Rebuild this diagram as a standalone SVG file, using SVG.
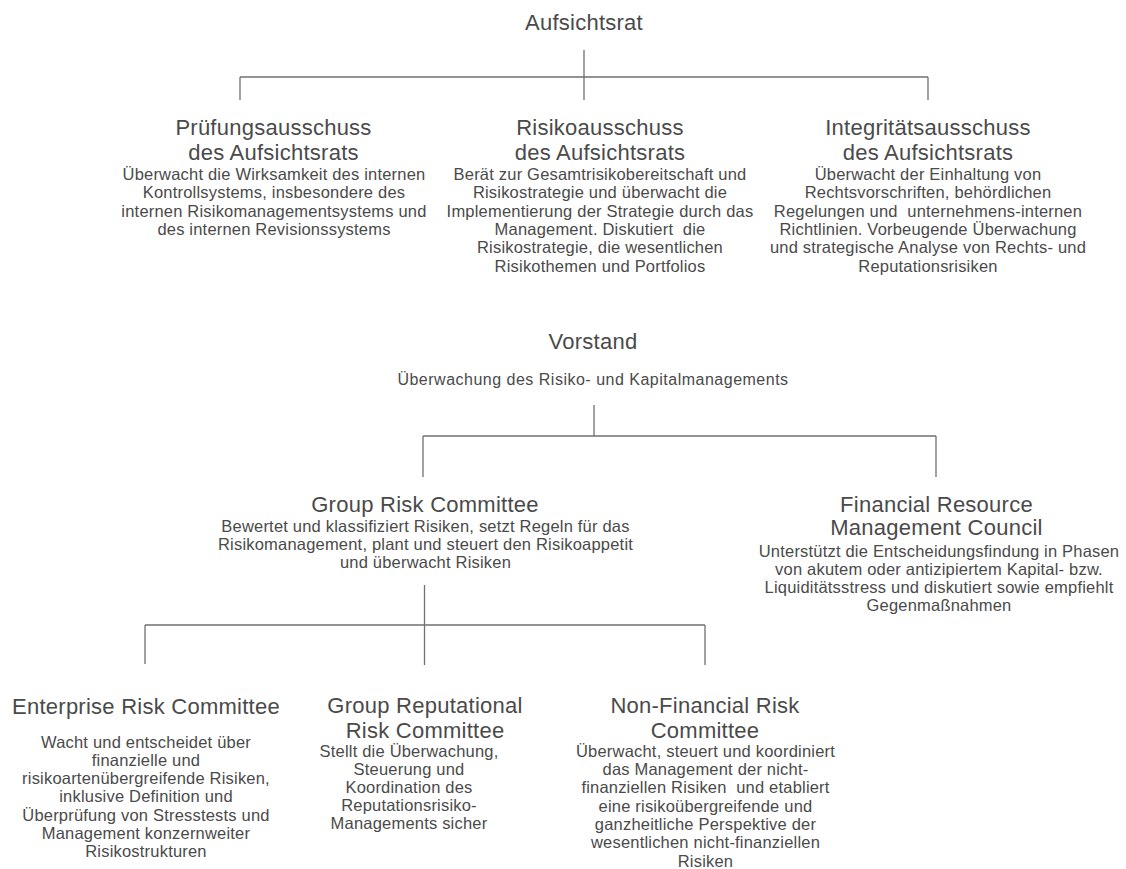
<svg xmlns="http://www.w3.org/2000/svg" width="1126" height="869" viewBox="0 0 1126 869">
<style>
.t{font-family:"Liberation Sans",Arial,sans-serif;font-size:22px;letter-spacing:0.25px;fill:#4a4a4a;text-anchor:middle}
.d{font-family:"Liberation Sans",Arial,sans-serif;font-size:16.5px;letter-spacing:0.2px;fill:#4a4a4a;text-anchor:middle}
.c{fill:none;stroke:#707070;stroke-width:1.3}
</style>
<rect width="1126" height="869" fill="#ffffff"/>
<g id="connectors" class="c">
<path d="M584,50 V100 M240,77 H928 M240,77 V100 M928,77 V100"/>
<path d="M594,405 V436 M423,436 H936 M423,436 V477 M936,436 V477"/>
<path d="M424.5,585 V665 M145,625 H705 M145,625 V664 M705,625 V665"/>
</g>
<g id="aufsichtsrat">
<text class="t" x="584" y="29.5">Aufsichtsrat</text>
</g>
<g id="pruefungsausschuss">
<text class="t" x="273.5"><tspan x="273.5" y="135">Prüfungsausschuss</tspan><tspan x="273.5" y="160">des Aufsichtsrats</tspan></text>
<text class="d" x="274"><tspan x="274" y="180">Überwacht die Wirksamkeit des internen</tspan><tspan x="274" y="198.3">Kontrollsystems, insbesondere des</tspan><tspan x="274" y="216.7">internen Risikomanagementsystems und</tspan><tspan x="274" y="235">des internen Revisionssystems</tspan></text>
</g>
<g id="risikoausschuss">
<text class="t" x="600"><tspan x="600" y="135">Risikoausschuss</tspan><tspan x="600" y="160">des Aufsichtsrats</tspan></text>
<text class="d" x="600" xml:space="preserve"><tspan x="600" y="180">Berät zur Gesamtrisikobereitschaft und</tspan><tspan x="600" y="198.3">Risikostrategie und überwacht die</tspan><tspan x="600" y="216.7">Implementierung der Strategie durch das</tspan><tspan x="600" y="235">Management. Diskutiert  die</tspan><tspan x="600" y="253.3">Risikostrategie, die wesentlichen</tspan><tspan x="600" y="271.7">Risikothemen und Portfolios</tspan></text>
</g>
<g id="integritaetsausschuss">
<text class="t" x="928"><tspan x="928" y="135">Integritätsausschuss</tspan><tspan x="928" y="160">des Aufsichtsrats</tspan></text>
<text class="d" x="928" xml:space="preserve"><tspan x="928" y="180">Überwacht der Einhaltung von</tspan><tspan x="928" y="198.3">Rechtsvorschriften, behördlichen</tspan><tspan x="928" y="216.7">Regelungen und  unternehmens-internen</tspan><tspan x="928" y="235">Richtlinien. Vorbeugende Überwachung</tspan><tspan x="928" y="253.3">und strategische Analyse von Rechts- und</tspan><tspan x="928" y="271.7">Reputationsrisiken</tspan></text>
</g>
<g id="vorstand">
<text class="t" x="593" y="348.5">Vorstand</text>
<text class="d" x="593" y="385" style="font-size:16px;letter-spacing:0.5px">Überwachung des Risiko- und Kapitalmanagements</text>
</g>
<g id="group-risk-committee">
<text class="t" x="425" y="511.7">Group Risk Committee</text>
<text class="d" x="425.5"><tspan x="425.5" y="531.5">Bewertet und klassifiziert Risiken, setzt Regeln für das</tspan><tspan x="425.5" y="549.5">Risikomanagement, plant und steuert den Risikoappetit</tspan><tspan x="425.5" y="567.5">und überwacht Risiken</tspan></text>
</g>
<g id="financial-resource-management-council">
<text class="t" x="936.5"><tspan x="936.5" y="511.7">Financial Resource</tspan><tspan x="936.5" y="535">Management Council</tspan></text>
<text class="d" x="939"><tspan x="939" y="556.5">Unterstützt die Entscheidungsfindung in Phasen</tspan><tspan x="939" y="574.5">von akutem oder antizipiertem Kapital- bzw.</tspan><tspan x="939" y="592.5">Liquiditätsstress und diskutiert sowie empfiehlt</tspan><tspan x="939" y="610.5">Gegenmaßnahmen</tspan></text>
</g>
<g id="enterprise-risk-committee">
<text class="t" x="146" y="713.5">Enterprise Risk Committee</text>
<text class="d" x="146"><tspan x="146" y="747.5">Wacht und entscheidet über</tspan><tspan x="146" y="765.8">finanzielle und</tspan><tspan x="146" y="784">risikoartenübergreifende Risiken,</tspan><tspan x="146" y="802.3">inklusive Definition und</tspan><tspan x="146" y="820.5">Überprüfung von Stresstests und</tspan><tspan x="146" y="838.8">Management konzernweiter</tspan><tspan x="146" y="857">Risikostrukturen</tspan></text>
</g>
<g id="group-reputational-risk-committee">
<text class="t" x="425"><tspan x="425" y="713">Group Reputational</tspan><tspan x="425" y="737.5">Risk Committee</tspan></text>
<text class="d" x="409"><tspan x="409" y="756.5">Stellt die Überwachung,</tspan><tspan x="409" y="774.7">Steuerung und</tspan><tspan x="409" y="792.9">Koordination des</tspan><tspan x="409" y="811.1">Reputationsrisiko-</tspan><tspan x="409" y="829.3">Managements sicher</tspan></text>
</g>
<g id="non-financial-risk-committee">
<text class="t" x="705"><tspan x="705" y="713">Non-Financial Risk</tspan><tspan x="705" y="737.5">Committee</tspan></text>
<text class="d" x="705.5" xml:space="preserve"><tspan x="705.5" y="756.9">Überwacht, steuert und koordiniert</tspan><tspan x="705.5" y="775.1">das Management der nicht-</tspan><tspan x="705.5" y="793.4">finanziellen Risiken  und etabliert</tspan><tspan x="705.5" y="811.6">eine risikoübergreifende und</tspan><tspan x="705.5" y="829.9">ganzheitliche Perspektive der</tspan><tspan x="705.5" y="848.2">wesentlichen nicht-finanziellen</tspan><tspan x="705.5" y="866.5">Risiken</tspan></text>
</g>
</svg>
